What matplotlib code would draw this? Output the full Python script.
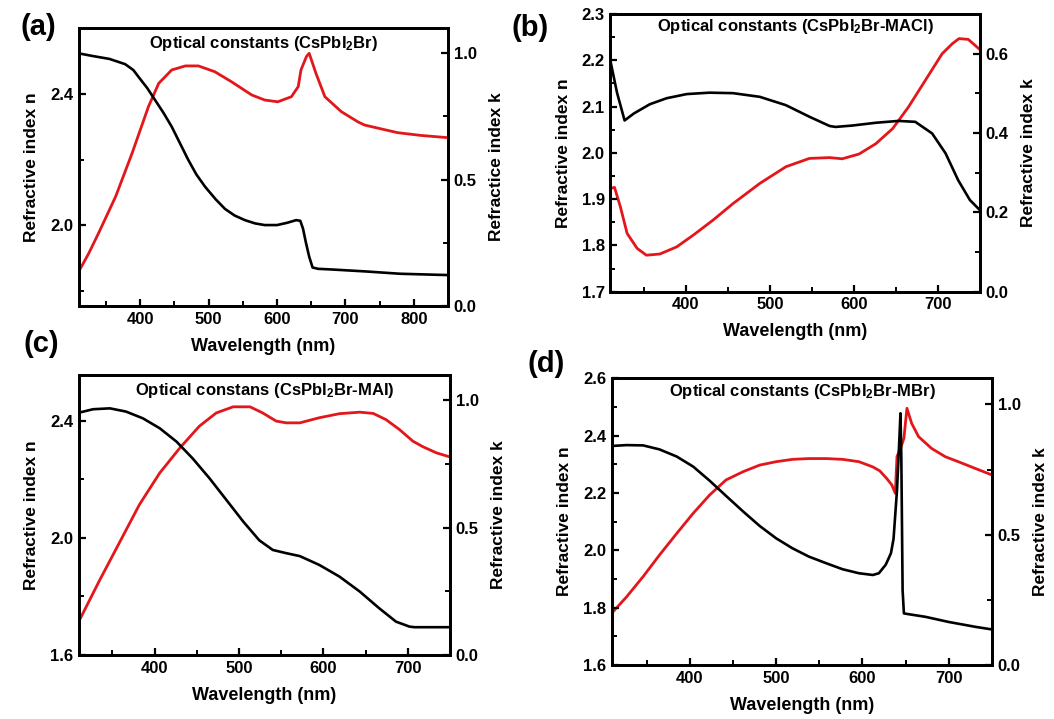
import numpy as np
import matplotlib
matplotlib.use('Agg')
import matplotlib.pyplot as plt
from matplotlib.ticker import MultipleLocator, FormatStrFormatter

matplotlib.rcParams['font.family'] = ['Liberation Sans', 'DejaVu Sans']
matplotlib.rcParams['font.weight'] = 'bold'
matplotlib.rcParams['mathtext.fontset'] = 'custom'
matplotlib.rcParams['mathtext.bf'] = 'Liberation Sans:bold'
matplotlib.rcParams['mathtext.rm'] = 'Liberation Sans:bold'
matplotlib.rcParams['mathtext.default'] = 'bf'

''' 1. data read off the figure '''
# (a) CsPbI2Br
wl_a_n = [310, 330, 355, 378, 390, 398, 410, 422, 434, 446, 458, 470, 482, 495, 510, 524,
          538, 553, 568, 582, 600, 615, 628, 634, 638, 642, 647, 652, 660, 680, 730, 780, 850]
n_a = [2.523, 2.515, 2.506, 2.49, 2.472, 2.45, 2.418, 2.38, 2.342, 2.30, 2.25, 2.20, 2.155,
       2.117, 2.08, 2.05, 2.03, 2.016, 2.006, 2.001, 2.001, 2.008, 2.016, 2.014, 1.99, 1.95,
       1.905, 1.872, 1.868, 1.866, 1.86, 1.853, 1.849]
wl_a_k = [310, 325, 339, 364, 388, 412, 427, 446, 466, 485, 509, 533, 563, 582, 601, 621,
          631, 635, 643, 647, 652, 657, 670, 694, 718, 728, 776, 810, 850]
k_a = [0.136, 0.21, 0.288, 0.433, 0.604, 0.789, 0.881, 0.934, 0.95, 0.95, 0.927, 0.888,
       0.835, 0.815, 0.808, 0.828, 0.868, 0.934, 0.987, 1.0, 0.96, 0.92, 0.828, 0.769,
       0.729, 0.716, 0.686, 0.675, 0.666]

# (b) CsPbI2Br-MACl
wl_b_n = [310, 318, 327, 338, 357, 377, 401, 428, 456, 488, 519, 547, 571, 578, 598, 626,
          653, 673, 693, 709, 724, 738, 750]
n_b = [2.2, 2.13, 2.07, 2.085, 2.105, 2.118, 2.127, 2.13, 2.129, 2.121, 2.103, 2.078, 2.058,
       2.056, 2.059, 2.065, 2.069, 2.067, 2.042, 1.999, 1.941, 1.898, 1.876]
wl_b_k = [310, 315, 322, 330, 342, 353, 369, 389, 409, 432, 456, 488, 519, 547, 571, 586,
          606, 626, 646, 665, 685, 705, 717, 725, 736, 742, 750]
k_b = [0.26, 0.263, 0.214, 0.147, 0.109, 0.092, 0.095, 0.113, 0.143, 0.18, 0.222, 0.273,
       0.315, 0.336, 0.338, 0.335, 0.347, 0.373, 0.411, 0.466, 0.533, 0.6, 0.625, 0.638,
       0.636, 0.625, 0.61]

# (c) CsPbI2Br-MAI
wl_c_n = [310, 327, 347, 366, 386, 406, 426, 445, 465, 485, 505, 524, 540, 556, 572, 595,
          619, 643, 666, 686, 702, 708, 750]
n_c = [2.428, 2.44, 2.443, 2.432, 2.409, 2.375, 2.329, 2.272, 2.204, 2.13, 2.056, 1.992,
       1.959, 1.948, 1.938, 1.908, 1.868, 1.817, 1.76, 1.714, 1.697, 1.695, 1.695]
wl_c_k = [310, 335, 359, 382, 406, 430, 453, 473, 493, 513, 528, 544, 556, 572, 595, 619,
          643, 659, 674, 690, 706, 718, 734, 750]
k_c = [0.131, 0.295, 0.446, 0.591, 0.715, 0.814, 0.899, 0.951, 0.975, 0.975, 0.951, 0.919,
       0.912, 0.912, 0.932, 0.948, 0.954, 0.949, 0.925, 0.886, 0.84, 0.818, 0.794, 0.778]

# (d) CsPbI2Br-MBr
wl_d_n = [310, 327, 346, 365, 385, 404, 423, 442, 462, 481, 500, 519, 538, 558, 577, 596,
          612, 619, 627, 633, 636, 640, 642.7, 644, 645, 646.5, 648, 654, 673, 700, 731, 750]
n_d = [2.364, 2.367, 2.366, 2.352, 2.327, 2.292, 2.243, 2.19, 2.135, 2.085, 2.042, 2.007,
       1.978, 1.955, 1.934, 1.92, 1.914, 1.92, 1.95, 1.99, 2.04, 2.21, 2.385, 2.478, 2.327,
       1.86, 1.78, 1.777, 1.768, 1.75, 1.733, 1.724]
wl_d_k = [310, 327, 346, 365, 385, 404, 423, 442, 462, 481, 500, 519, 538, 558, 577, 596,
          612, 620, 628, 634, 638, 640, 644, 648, 651.5, 657, 665, 680, 696, 711, 730, 750]
k_d = [0.2, 0.262, 0.339, 0.422, 0.505, 0.582, 0.652, 0.71, 0.742, 0.767, 0.78, 0.789,
       0.792, 0.792, 0.789, 0.78, 0.76, 0.745, 0.716, 0.691, 0.659, 0.8, 0.83, 0.87, 0.985,
       0.927, 0.876, 0.831, 0.799, 0.78, 0.755, 0.729]

''' 2. plotting '''
W, H = 1054, 719
fig = plt.figure(figsize=(W / 100, H / 100), dpi=100)

RED = '#e3171b'


def box(l, r, t, b):
    return [l / W, 1 - b / H, (r - l) / W, (b - t) / H]


def panel(rect, wn, n, wk, k, xlim, nlim, klim, nmaj, nmin, kmaj, kmin,
          title, title_y, rlabel):
    ax = fig.add_axes(rect)
    ax2 = ax.twinx()
    ax.plot(wn, n, color='black', lw=1.9, solid_joinstyle='round')
    ax2.plot(wk, k, color=RED, lw=2.0, solid_joinstyle='round')
    # black curve drawn over the red one
    ax.set_zorder(ax2.get_zorder() + 1)
    ax.patch.set_visible(False)
    ax.set_xlim(*xlim)
    ax.set_ylim(*nlim)
    ax2.set_ylim(*klim)
    ax.xaxis.set_major_locator(MultipleLocator(100))
    ax.xaxis.set_minor_locator(MultipleLocator(50))
    ax.yaxis.set_major_locator(MultipleLocator(nmaj))
    ax.yaxis.set_minor_locator(MultipleLocator(nmin))
    ax2.yaxis.set_major_locator(MultipleLocator(kmaj))
    ax2.yaxis.set_minor_locator(MultipleLocator(kmin))
    ax.yaxis.set_major_formatter(FormatStrFormatter('%.1f'))
    ax2.yaxis.set_major_formatter(FormatStrFormatter('%.1f'))
    for a in (ax, ax2):
        for sp in a.spines.values():
            sp.set_linewidth(2.0)
        a.tick_params(which='major', direction='in', length=5, width=1.6,
                      labelsize=12, pad=4)
        a.tick_params(which='minor', direction='in', length=3.5, width=1.4)
    ax.tick_params(which='both', top=False, right=False)
    ax2.tick_params(which='both', top=False, bottom=False, left=False, right=True)
    ax.set_xlabel('Wavelength (nm)', fontsize=13, fontweight='bold', labelpad=8)
    ax.set_ylabel('Refractive index n', fontsize=12.5, fontweight='bold', labelpad=8)
    ax2.set_ylabel(rlabel, fontsize=12.5, fontweight='bold', labelpad=9)
    ax.text(0.5, title_y, title, transform=ax.transAxes, ha='center', va='center',
            fontsize=12, fontweight='bold')
    return ax, ax2


panel(box(78.7, 448, 28, 306), wl_a_n, n_a, wl_a_k, k_a, (310, 850), (1.755, 2.6), (0, 1.1),
      0.4, 0.2, 0.5, 0.25, 'Optical constants (CsPbI$_2$Br)', 0.945, 'Refractice index k')
panel(box(610.3, 980, 14, 291.7), wl_b_n, n_b, wl_b_k, k_b, (310, 750), (1.7, 2.3), (0, 0.7),
      0.1, 0.05, 0.2, 0.1, 'Optical constants (CsPbI$_2$Br-MACl)', 0.955, 'Refractive index k')
panel(box(78.7, 450, 375, 655), wl_c_n, n_c, wl_c_k, k_c, (310, 750), (1.6, 2.557), (0, 1.1),
      0.4, 0.2, 0.5, 0.25, 'Optical constans (CsPbI$_2$Br-MAI)', 0.945, 'Refractive index k')
panel(box(612, 992, 378.3, 665), wl_d_n, n_d, wl_d_k, k_d, (310, 750), (1.6, 2.6), (0, 1.1),
      0.2, 0.1, 0.5, 0.25, 'Optical constants (CsPbI$_2$Br-MBr)', 0.955, 'Refractive index k')

for lab, x, y in [('(a)', 38, 27), ('(b)', 530, 28), ('(c)', 41, 344), ('(d)', 546, 364)]:
    fig.text(x / W, 1 - y / H, lab, fontsize=21, fontweight='bold', ha='center', va='center')

fig.savefig('out.png', dpi=100)
